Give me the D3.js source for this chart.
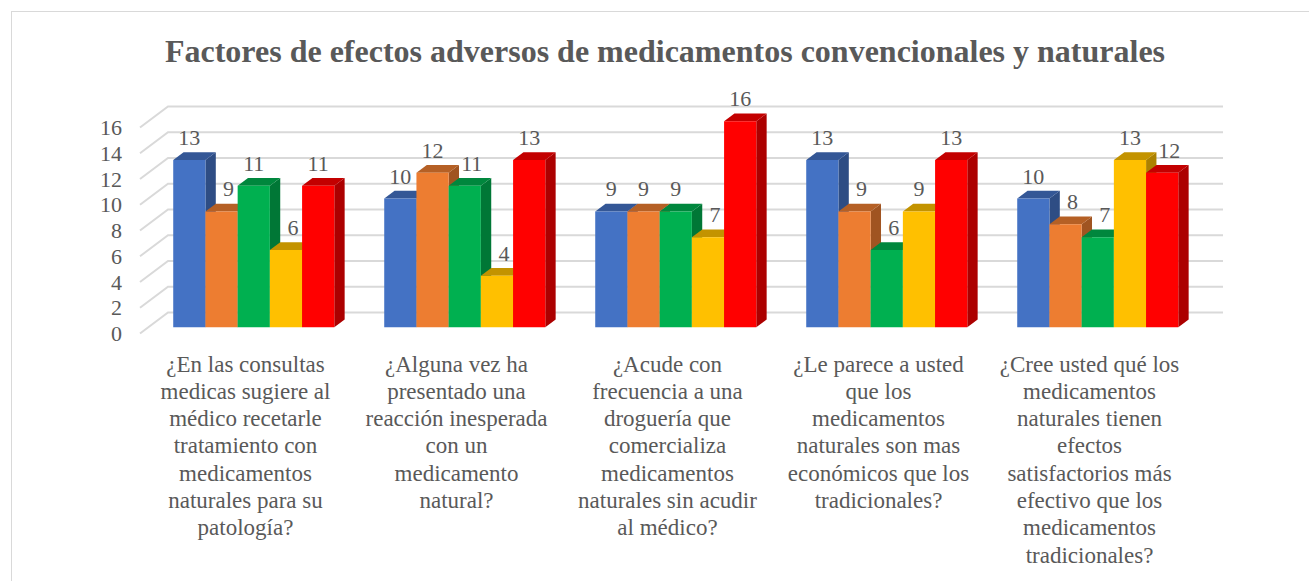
<!DOCTYPE html>
<html>
  <head>
    <meta charset="utf-8">
    <title>Factores de efectos adversos</title>
    <script src="https://cdn.jsdelivr.net/npm/d3@7"></script>
    <style>
      body { margin: 0; background: #fff; }
      text { font-family: "Liberation Serif", "Times New Roman", serif; fill: #595959; }
    </style>
  </head>
  <body>
    <svg width="1309" height="581"></svg>
    <script>
      const title = "Factores de efectos adversos de medicamentos convencionales y naturales";

      const categoryLines = [
        ["¿En las consultas", "medicas sugiere al", "médico recetarle", "tratamiento con", "medicamentos", "naturales para su", "patología?"],
        ["¿Alguna vez ha", "presentado una", "reacción inesperada", "con un", "medicamento", "natural?"],
        ["¿Acude con", "frecuencia a una", "droguería que", "comercializa", "medicamentos", "naturales sin acudir", "al médico?"],
        ["¿Le parece a usted", "que los", "medicamentos", "naturales son mas", "económicos que los", "tradicionales?"],
        ["¿Cree usted qué los", "medicamentos", "naturales tienen", "efectos", "satisfactorios más", "efectivo que los", "medicamentos", "tradicionales?"]
      ];

      const series1 = [13, 10, 9, 13, 10];
      const series2 = [9, 12, 9, 9, 8];
      const series3 = [11, 11, 9, 6, 7];
      const series4 = [6, 4, 7, 9, 13];
      const series5 = [11, 13, 16, 13, 12];
      const allSeries = [series1, series2, series3, series4, series5];
      const seriesColors = ["#4472C4", "#ED7D31", "#00B050", "#FFC000", "#FF0000"];
      const yTicks = [0, 2, 4, 6, 8, 10, 12, 14, 16];

      const svg = d3.select("svg");

      // chart frame
      svg.append("rect")
        .attr("x", 11.5).attr("y", 11.5)
        .attr("width", 1320).attr("height", 600)
        .attr("fill", "none").attr("stroke", "#d9d9d9");

      // oblique 3d: depth z in [0,1] shifts by (DX, DY)
      const DX = 28, DY = -21;
      const z0 = 0.295, z1 = 0.665;

      const x0 = d3.scaleBand()
        .domain(d3.range(categoryLines.length))
        .range([140, 1195]);
      const x1 = d3.scaleBand()
        .domain(d3.range(allSeries.length))
        .range([0, x0.bandwidth()])
        .paddingOuter(0.775);
      const y = d3.scaleLinear().domain([0, 16]).range([333.5, 127.5]);

      const P = (x, v, z) => [x + z * DX, y(v) + z * DY];
      const poly = pts => "M" + pts.map(p => p.join(",")).join("L") + "Z";

      // gridlines: side wall + back wall
      const grid = svg.append("g")
        .attr("stroke", "#d9d9d9").attr("stroke-width", 2).attr("fill", "none");
      yTicks.forEach(t => {
        const a = P(x0.range()[0], t, 0), b = P(x0.range()[0], t, 1), c = P(x0.range()[1], t, 1);
        grid.append("path").attr("d", `M${a}L${b}L${c}`);
      });

      // y tick labels
      svg.append("g").selectAll("text").data(yTicks).enter().append("text")
        .attr("x", 122).attr("y", d => y(d))
        .attr("dy", "0.35em")
        .attr("text-anchor", "end")
        .style("font-size", "22px")
        .text(d => d);

      // bars
      const bars = svg.append("g");
      const labels = svg.append("g");
      categoryLines.forEach((cat, i) => {
        allSeries.forEach((s, j) => {
          const v = s[i];
          const xl = x0(i) + x1(j), xr = xl + x1.bandwidth();
          const col = d3.color(seriesColors[j]);
          const g = bars.append("g");
          g.append("path").attr("fill", col.darker(1.1))
            .attr("d", poly([P(xr, 0, z0), P(xr, 0, z1), P(xr, v, z1), P(xr, v, z0)]));
          g.append("path").attr("fill", col.darker(0.75))
            .attr("d", poly([P(xl, v, z0), P(xr, v, z0), P(xr, v, z1), P(xl, v, z1)]));
          g.append("path").attr("fill", col)
            .attr("d", poly([P(xl, 0, z0), P(xr, 0, z0), P(xr, v, z0), P(xl, v, z0)]));

          const nudge = j > 0 && allSeries[j - 1][i] > v ? 7 : 0;
          const top = P((xl + xr) / 2, v, z0);
          labels.append("text")
            .attr("x", top[0] + nudge).attr("y", top[1] - 15)
            .attr("text-anchor", "middle")
            .style("font-size", "22px")
            .text(v);
        });
      });

      // category labels
      const cats = svg.append("g");
      categoryLines.forEach((lines, i) => {
        const t = cats.append("text")
          .attr("x", x0(i) + x0.bandwidth() / 2)
          .attr("y", 371.5)
          .attr("text-anchor", "middle")
          .style("font-size", "23px");
        t.selectAll("tspan").data(lines).enter().append("tspan")
          .attr("x", x0(i) + x0.bandwidth() / 2)
          .attr("dy", (d, k) => k === 0 ? 0 : 27.3)
          .text(d => d);
      });

      // title
      svg.append("text")
        .attr("x", 665).attr("y", 61.5)
        .attr("text-anchor", "middle")
        .style("font-size", "32px")
        .style("font-weight", "bold")
        .text(title);
    </script>
  </body>
</html>
